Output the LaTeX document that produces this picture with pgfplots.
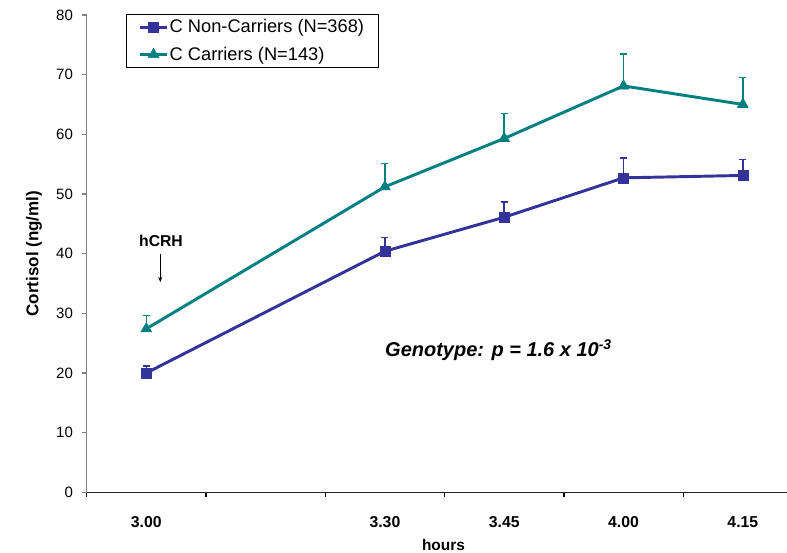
\documentclass[border=0pt]{standalone}
\usepackage{pgfplots}
\pgfplotsset{compat=1.18}
\usepackage{fontspec}
\setmainfont{Liberation Sans}
\usetikzlibrary{arrows.meta}
\definecolor{noncar}{HTML}{333399}
\definecolor{carr}{HTML}{008080}
\begin{document}
\begin{tikzpicture}
\begin{axis}[
  at={(0,0)}, anchor=south west,
  scale only axis, width=525.2pt, height=358pt,
  xmin=-0.5, xmax=5.37, ymin=0, ymax=80,
  axis x line*=bottom, axis y line*=left,
  x axis line style={-, black!85, line width=1pt},
  y axis line style={-, gray, line width=1pt},
  tick align=outside, major tick length=3.8pt,
  xtick={-0.5,0.5,1.5,2.5,3.5,4.5}, xticklabels={,,,,,},
  extra x ticks={0,2,3,4,5},
  extra x tick labels={3.00,3.30,3.45,4.00,4.15},
  extra x tick style={tick style={draw=none},
    tick label style={font=\fontsize{11.85}{14}\selectfont\bfseries, yshift=-11pt}},
  xtick style={black, line width=1pt},
  ytick={0,10,...,80},
  ytick style={gray, line width=1pt},
  yticklabel style={font=\fontsize{11.25}{13}\selectfont, xshift=-3pt},
  /pgf/number format/assume math mode=true,
  xlabel={hours},
  xlabel style={font=\fontsize{11.6}{14}\selectfont\bfseries,
    at={(axis description cs:0.5095,-0.121)}, anchor=base},
  ylabel={Cortisol (ng/ml)},
  ylabel style={font=\fontsize{12.75}{15}\selectfont\bfseries,
    at={(axis description cs:-0.0753,0.5)}, anchor=center, rotate=0},
  legend image code/.code={\draw[mark repeat=2,mark phase=2,#1]
    plot coordinates {(0pt,0pt) (10pt,0pt) (20pt,0pt)};},
  legend style={at={(0.0557,1.0015)}, anchor=north west,
    draw=black, line width=0.6pt, fill=white,
    font=\fontsize{13.7}{16}\selectfont,
    inner xsep=9.5pt, inner ysep=2.8pt, row sep=7pt,
    nodes={inner sep=1pt}},
  legend cell align=left,
]
\addplot[noncar, line width=2.2pt, mark=square*, mark size=3.75pt,
  mark options={solid, line width=0.5pt},
  error bars/.cd, y dir=plus, y explicit,
  error bar style={line width=1.2pt, noncar},
  error mark options={rotate=90, mark size=2.6pt, line width=1.2pt, noncar}]
  table[x=x, y=y, y error plus=e] {
x y e
0 20.0 1.2
2 40.4 2.3
3 46.1 2.6
4 52.7 3.3
5 53.1 2.7
};
\addplot[carr, line width=2.2pt, mark=triangle*, mark size=4.6pt,
  mark options={solid, line width=0.5pt},
  error bars/.cd, y dir=plus, y explicit,
  error bar style={line width=1.2pt, carr},
  error mark options={rotate=90, mark size=2.6pt, line width=1.2pt, carr}]
  table[x=x, y=y, y error plus=e] {
x y e
0 27.4 2.2
2 51.2 3.9
3 59.3 4.2
4 68.1 5.4
5 65.0 4.5
};
\legend{C Non-Carriers (N=368), C Carriers (N=143)}
\node[font=\fontsize{11.8}{14}\selectfont\bfseries] at (axis cs:0.123,42.2) {hCRH};
\draw[black, line width=0.75pt, -{Stealth[length=4pt,width=3pt]}]
  (axis cs:0.117,40.0) -- (axis cs:0.117,35.2);
\node[anchor=base west, inner sep=0pt, font=\fontsize{15}{18}\selectfont\bfseries\itshape]
  at (axis cs:2.0,22.7) {Genotype: p = 1.6 x 10\textsuperscript{-3}};
\end{axis}
\pgfresetboundingbox
\path[use as bounding box] (-65pt,-45.5pt) rectangle (525.2pt,369.2pt);
\end{tikzpicture}
\end{document}
